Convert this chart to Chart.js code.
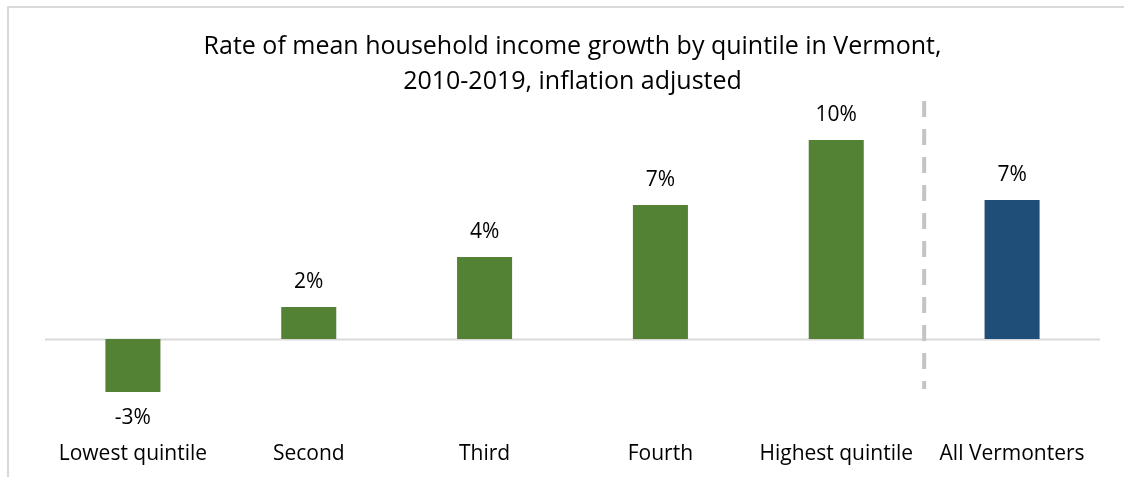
<!DOCTYPE html>
<html>
<head>
<meta charset="utf-8">
<script src="https://cdn.jsdelivr.net/npm/chart.js@4/dist/chart.umd.min.js"></script>
<style>
  html, body { margin: 0; padding: 0; background: #ffffff; }
  #wrap { position: relative; width: 1124px; height: 477px; }
</style>
</head>
<body>
<div id="wrap"><canvas id="c" width="1124" height="477"></canvas></div>
<script>
// ---- Data ----
const categories = ['Lowest quintile', 'Second', 'Third', 'Fourth', 'Highest quintile', 'All Vermonters'];
const growthValues = [-2.65, 1.6, 4.1, 6.7, 9.95, 6.95];
const valueLabels = ['-3%', '2%', '4%', '7%', '10%', '7%'];
const barColors = ['#548235', '#548235', '#548235', '#548235', '#548235', '#1f4e79'];
const titleLines = ['Rate of mean household income growth by quintile in Vermont,', '2010-2019, inflation adjusted'];
const separatorAfterIndex = 4;
const separatorRange = [11.9, -2.5];

const FONT = '"Open Sans", Lato, sans-serif';

const decorPlugin = {
  id: 'decor',
  beforeDraw(chart) {
    const ctx = chart.ctx;
    ctx.save();
    ctx.fillStyle = '#ffffff';
    ctx.fillRect(0, 0, chart.width, chart.height);
    ctx.strokeStyle = '#d9d9d9';
    ctx.lineWidth = 2;
    ctx.strokeRect(8, 7, chart.width + 50, chart.height + 50);
    ctx.restore();
  },
  beforeDatasetsDraw(chart) {
    const ctx = chart.ctx;
    const x = chart.scales.x, y = chart.scales.y;
    const area = chart.chartArea;
    ctx.save();
    const y0 = Math.round(y.getPixelForValue(0)) + 0.5;
    ctx.strokeStyle = '#d9d9d9';
    ctx.lineWidth = 2;
    ctx.beginPath();
    ctx.moveTo(area.left, y0);
    ctx.lineTo(area.right, y0);
    ctx.stroke();
    const sx = (x.getPixelForValue(separatorAfterIndex) + x.getPixelForValue(separatorAfterIndex + 1)) / 2;
    ctx.strokeStyle = '#c4c4c4';
    ctx.lineWidth = 4;
    ctx.setLineDash([16, 12]);
    ctx.beginPath();
    ctx.moveTo(sx, y.getPixelForValue(separatorRange[0]));
    ctx.lineTo(sx, y.getPixelForValue(separatorRange[1]));
    ctx.stroke();
    ctx.restore();
  },
  afterDatasetsDraw(chart) {
    const ctx = chart.ctx;
    const meta = chart.getDatasetMeta(0);
    ctx.save();
    ctx.fillStyle = '#000000';
    ctx.font = '21px ' + FONT;
    ctx.textAlign = 'center';
    ctx.textBaseline = 'middle';
    meta.data.forEach((bar, i) => {
      const v = growthValues[i];
      const ly = v >= 0 ? bar.y - 25 : bar.y + 26;
      ctx.fillText(valueLabels[i], bar.x, ly);
    });
    ctx.restore();
  }
};

new Chart(document.getElementById('c'), {
  type: 'bar',
  data: {
    labels: categories,
    datasets: [{
      data: growthValues,
      backgroundColor: barColors,
      borderWidth: 0,
      barPercentage: 0.313,
      categoryPercentage: 1.0
    }]
  },
  options: {
    responsive: false,
    animation: false,
    devicePixelRatio: 1,
    layout: { padding: { left: 45, right: 24, top: 0, bottom: 0 } },
    plugins: {
      legend: { display: false },
      tooltip: { enabled: false },
      title: {
        display: true,
        text: titleLines,
        color: '#000000',
        font: { family: FONT, size: 25, weight: 'normal', lineHeight: 1.4 },
        padding: { top: 29, bottom: 0 }
      }
    },
    scales: {
      x: {
        grid: { display: false, drawTicks: false },
        border: { display: false },
        ticks: { color: '#000000', font: { family: FONT, size: 21 }, padding: 12, maxRotation: 0, autoSkip: false },
        afterFit(scale) { scale.height = 48; }
      },
      y: {
        display: false,
        min: -4.5,
        max: 12
      }
    }
  },
  plugins: [decorPlugin]
});
</script>
</body>
</html>
